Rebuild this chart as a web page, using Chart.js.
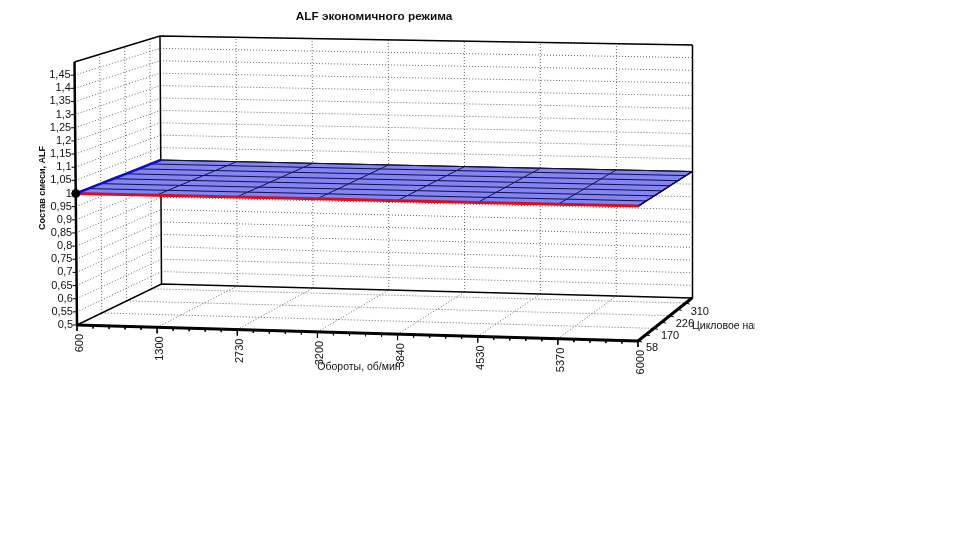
<!DOCTYPE html>
<html>
<head>
<meta charset="utf-8">
<title>ALF экономичного режима</title>
<script src="https://cdn.jsdelivr.net/npm/chart.js@4/dist/chart.umd.min.js"></script>
<style>
  html, body { margin: 0; padding: 0; background: #fff; }
  canvas { display: block; }
</style>
</head>
<body>
<canvas id="chart" width="755" height="390"></canvas>
<script>
// Chart data
const rpmLabels = ['600', '1300', '2730', '3200', '3840', '4530', '5370', '6000'];
const loadRows = ['58', '114', '170', '198', '226', '268', '310', '322'];
const alfTicks = [0.5, 0.55, 0.6, 0.65, 0.7, 0.75, 0.8, 0.85, 0.9, 0.95, 1, 1.05, 1.1, 1.15, 1.2, 1.25, 1.3, 1.35, 1.4, 1.45];

// ALF surface, one list per load row
const alfLoad58 = [1, 1, 1, 1, 1, 1, 1, 1];
const alfLoad114 = [1, 1, 1, 1, 1, 1, 1, 1];
const alfLoad170 = [1, 1, 1, 1, 1, 1, 1, 1];
const alfLoad198 = [1, 1, 1, 1, 1, 1, 1, 1];
const alfLoad226 = [1, 1, 1, 1, 1, 1, 1, 1];
const alfLoad268 = [1, 1, 1, 1, 1, 1, 1, 1];
const alfLoad310 = [1, 1, 1, 1, 1, 1, 1, 1];
const alfLoad322 = [1, 1, 1, 1, 1, 1, 1, 1];
const surface = [alfLoad58, alfLoad114, alfLoad170, alfLoad198, alfLoad226, alfLoad268, alfLoad310, alfLoad322];

const markerAlf = 1;
const alfMin = 0.5;
const alfMax = 1.5;

// 3D box corners on the canvas, used to project the data into the chart's x/y scales
const boxFloor = [[77, 325], [638, 341], [161.5, 284], [692, 298]];
const boxTop = [[74.5, 62], [639, 71], [160, 36], [692.5, 45]];
const depthStep = 0.147;

function lerp(a, b, t) { return a + (b - a) * t; }

function project(rpmIndex, loadIndex, alf) {
  const u = rpmIndex / (rpmLabels.length - 1);
  const v = Math.min(1, loadIndex * depthStep);
  const w = (alf - alfMin) / (alfMax - alfMin);
  const corner = (c, axis) => lerp(lerp(c[0][axis], c[1][axis], u), lerp(c[2][axis], c[3][axis], u), v);
  return {
    x: lerp(corner(boxFloor, 0), corner(boxTop, 0), w),
    y: lerp(corner(boxFloor, 1), corner(boxTop, 1), w)
  };
}

const datasets = [];

function addLine(points, color, width, dash, extra) {
  datasets.push(Object.assign({
    data: points,
    showLine: true,
    borderColor: color,
    borderWidth: width,
    borderDash: dash || [],
    pointRadius: 0,
    tension: 0,
    clip: false,
    order: -datasets.length
  }, extra || {}));
}

const GRID = '#666666';
const DOTS = [1, 2];
const lastRpm = rpmLabels.length - 1;
const lastRow = loadRows.length - 1;
const backRow = lastRow;
const labelledRows = loadRows.map((r, i) => i).filter(i => i % 2 === 0);

// Dotted grid on the walls and on the floor
alfTicks.concat([alfMax]).forEach(a => {
  if (a === alfMin) return;
  addLine([project(0, 0, a), project(0, backRow, a)], GRID, 1, DOTS);
  addLine([project(0, backRow, a), project(lastRpm, backRow, a)], GRID, 1, DOTS);
});
rpmLabels.forEach((r, i) => {
  if (i === 0 || i === lastRpm) return;
  addLine([project(i, backRow, alfMin), project(i, backRow, alfMax)], GRID, 1, DOTS);
  addLine([project(i, 0, alfMin), project(i, backRow, alfMin)], GRID, 1, DOTS);
});
labelledRows.forEach(i => {
  if (i === 0) return;
  addLine([project(0, i, alfMin), project(0, i, alfMax)], GRID, 1, DOTS);
  addLine([project(0, i, alfMin), project(lastRpm, i, alfMin)], GRID, 1, DOTS);
});

// Box outline
addLine([project(0, 0, alfMax), project(0, backRow, alfMax), project(lastRpm, backRow, alfMax)], '#000', 1.5);
addLine([project(0, 0, alfMin), project(0, backRow, alfMin), project(lastRpm, backRow, alfMin)], '#000', 1.5);
addLine([project(0, backRow, alfMin), project(0, backRow, alfMax)], '#000', 1.5);
addLine([project(lastRpm, backRow, alfMin), project(lastRpm, backRow, alfMax)], '#000', 1.5);

// Surface
const outline = [];
surface[0].forEach((a, c) => outline.push(project(c, 0, a)));
surface.forEach((row, r) => outline.push(project(lastRpm, r, row[lastRpm])));
surface[lastRow].slice().reverse().forEach((a, c) => outline.push(project(lastRpm - c, lastRow, a)));
surface.slice().reverse().forEach((row, r) => outline.push(project(0, lastRow - r, row[0])));
addLine(outline, '#000', 1, [], { surfaceFill: '#8484f2' });

surface.forEach((row, r) => {
  addLine(row.map((a, c) => project(c, r, a)), '#10104a', 1);
});
rpmLabels.forEach((label, c) => {
  addLine(surface.map((row, r) => project(c, r, row[c])), '#10104a', 1);
});
addLine(surface[0].map((a, c) => project(c, 0, a)), '#d4101f', 3);
addLine(surface.map((row, r) => project(0, r, row[0])), '#0a0ad8', 2.5);
addLine(surface.map((row, r) => project(lastRpm, r, row[lastRpm])), '#0a0a50', 1.5);

// Thick axes
addLine([project(0, 0, alfMin), project(0, 0, alfMax)], '#000', 2.5);
addLine([project(0, 0, alfMin), project(lastRpm, 0, alfMin)], '#000', 3);
addLine([project(lastRpm, 0, alfMin), project(lastRpm, backRow, alfMin)], '#000', 3);

// Tick marks
function tick(p, dx, dy) {
  addLine([p, { x: p.x + dx, y: p.y + dy }], '#000', 1);
}
alfTicks.forEach(a => tick(project(0, 0, a), -4, 0));
rpmLabels.forEach((r, i) => {
  tick(project(i, 0, alfMin), 0, 6);
  if (i < lastRpm) {
    [0.2, 0.4, 0.6, 0.8].forEach(f => tick(project(i + f, 0, alfMin), 0, 3));
  }
});
loadRows.forEach((r, i) => {
  if (i < lastRow) tick(project(lastRpm, i, alfMin), 4, 1);
});

// Marker at the front corner of the surface
datasets.push({
  data: [project(0, 0, markerAlf)],
  pointRadius: 4,
  pointBackgroundColor: '#000',
  pointBorderColor: '#000',
  clip: false,
  order: -datasets.length
});

const FONT = '"Liberation Sans", Arial, sans-serif';

function px(chart, p) {
  return { x: chart.scales.x.getPixelForValue(p.x), y: chart.scales.y.getPixelForValue(p.y) };
}

const box3d = {
  id: 'box3d',
  beforeDatasetDraw(chart, args) {
    const ds = chart.data.datasets[args.index];
    if (!ds.surfaceFill) return;
    const ctx = chart.ctx;
    ctx.save();
    ctx.beginPath();
    args.meta.data.forEach((pt, i) => {
      if (i === 0) ctx.moveTo(pt.x, pt.y);
      else ctx.lineTo(pt.x, pt.y);
    });
    ctx.closePath();
    ctx.fillStyle = ds.surfaceFill;
    ctx.fill();
    ctx.restore();
  },
  afterDraw(chart) {
    const ctx = chart.ctx;
    ctx.save();
    ctx.fillStyle = '#111';

    // Title
    ctx.font = 'bold 11.8px ' + FONT;
    ctx.textAlign = 'center';
    ctx.textBaseline = 'middle';
    ctx.fillText('ALF экономичного режима', 374, 17);

    // ALF labels
    ctx.font = '11px ' + FONT;
    ctx.textAlign = 'right';
    alfTicks.forEach(a => {
      const p = px(chart, project(0, 0, a));
      ctx.fillText(String(a).replace('.', ','), p.x - 4, p.y);
    });

    // Load labels
    ctx.textAlign = 'left';
    labelledRows.forEach(i => {
      const p = px(chart, project(lastRpm, i, alfMin));
      ctx.fillText(loadRows[i], p.x + 8 - i * 0.5, p.y + 7 + i / 3);
    });

    // Rpm labels, turned
    rpmLabels.forEach((label, i) => {
      const p = px(chart, project(i, 0, alfMin));
      ctx.save();
      ctx.translate(p.x + 3, p.y + 9);
      ctx.rotate(-Math.PI / 2);
      ctx.textAlign = 'right';
      ctx.fillText(label, 0, 0);
      ctx.restore();
    });

    // Axis titles
    ctx.font = '10.5px ' + FONT;
    ctx.textAlign = 'center';
    ctx.fillText('Обороты, об/мин', 359, 367);
    ctx.textAlign = 'left';
    ctx.fillText('Цикловое наполнение', 692, 326);
    ctx.save();
    ctx.translate(43, 188);
    ctx.rotate(-Math.PI / 2);
    ctx.textAlign = 'center';
    ctx.font = 'bold 9px ' + FONT;
    ctx.fillText('Состав смеси, ALF', 0, 0);
    ctx.restore();

    ctx.restore();
  }
};

document.addEventListener('DOMContentLoaded', function() {
  const canvas = document.getElementById('chart');
  new Chart(canvas.getContext('2d'), {
    type: 'scatter',
    data: { datasets: datasets },
    options: {
      responsive: false,
      animation: false,
      layout: { padding: 0, autoPadding: false },
      plugins: { legend: { display: false }, tooltip: { enabled: false } },
      scales: {
        x: { type: 'linear', display: false, min: 0, max: canvas.width },
        y: { type: 'linear', display: false, min: 0, max: canvas.height, reverse: true }
      }
    },
    plugins: [box3d]
  });
});
</script>
</body>
</html>
